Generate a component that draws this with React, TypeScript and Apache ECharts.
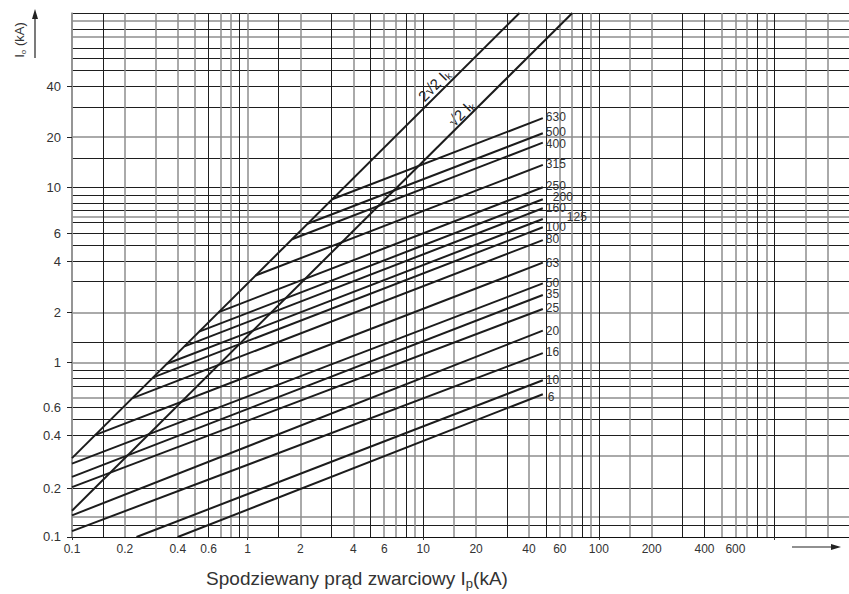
import React, { useEffect, useRef } from "react";
import * as echarts from "echarts";

const FONT = "'Liberation Sans', Arial, Helvetica, sans-serif";

// Fuse ratings (A) – cut-off lines: prospective current Ik (kA) -> let-through I0 (kA)
const fuseNames = ["630", "500", "400", "315", "250", "200", "160", "125", "100", "80", "63", "50", "35", "25", "20", "16", "10", "6"];
const startIk = [3.03, 2.19, 1.79, 1.11, 0.686, 0.53, 0.437, 0.347, 0.29, 0.221, 0.135, 0.1, 0.1, 0.1, 0.1, 0.1, 0.233, 0.4];
const startI0 = [8.58, 6.21, 5.07, 3.14, 1.94, 1.5, 1.235, 0.981, 0.82, 0.624, 0.383, 0.263, 0.221, 0.193, 0.133, 0.108, 0.1, 0.1];
const endIk = [48, 48, 48, 48, 48, 48, 48, 48, 48, 48, 48, 48, 48, 48, 48, 48, 48, 48];
const endI0 = [25.0, 20.5, 18.1, 13.5, 10.05, 8.58, 7.62, 6.62, 5.93, 5.01, 3.72, 2.83, 2.43, 2.02, 1.52, 1.13, 0.79, 0.657];

// Peak envelopes 2√2·Ik and √2·Ik
const peak2Ik = [0.1, 35.36];
const peak2I0 = [0.2828, 100];
const peak1Ik = [0.1, 70.71];
const peak1I0 = [0.1414, 100];

// Axes
const xLabelValues = [0.10001, 0.2, 0.4, 0.6, 1, 2, 4, 6, 10, 20, 40, 60, 100, 200, 400, 600];
const xTickValues = [0.10001, 1, 10, 100, 1000];
const xGridGray = [0.10001, 0.2, 0.3, 0.4, 0.5, 0.7, 0.8, 1, 2, 4, 6, 7, 9, 15, 20, 40, 60, 70, 90, 150, 200, 500, 600, 700, 900, 1500, 2000];
const xGridBlack = [0.15, 0.6, 0.9, 1.5, 3, 5, 8, 10, 30, 50, 80, 100, 300, 400, 800, 1000];

const yLabelValues = [0.10001, 0.19, 0.38, 0.55, 1.0, 1.93, 3.8, 5.5, 10, 19.5, 38];
const yLabelTexts = ["0.1", "0.2", "0.4", "0.6", "1", "2", "4", "6", "10", "20", "40"];
const yGridGray = [90, 73, 19.5, 6.8, 1.93, 1.0, 0.63, 0.29, 0.13];
const yGridBlack = [99.99, 81, 63, 55, 47, 38, 29, 14.7, 10, 9, 8.1, 7.4, 6.3, 5.5, 4.7, 3.8, 2.9, 1.31, 0.9, 0.81, 0.73, 0.55, 0.47, 0.38, 0.19, 0.117, 0.10001];

// label nudges (pixels) for the rating labels at the line ends
const labelDx = [0, 0, 0, 0, 0, 7, 0, 21, 0, 0, 0, 0, 0, 0, 0, 0, 0, 2];
const labelDy = [-1, -1.5, 1.5, -0.7, -1.3, -2, 0, -1.7, 0, -1, 0.6, 0, -0.7, -0.7, 0, -1, -0.7, 3.3];

const X_MIN = 0.1;
const X_MAX = 2660;
const Y_MIN = 0.1;
const Y_MAX = 100;

function nice(v: number) {
  return String(parseFloat(Number(v).toPrecision(3)));
}

export default function App() {
  const ref = useRef<HTMLDivElement>(null);

  useEffect(() => {
    if (!ref.current) return;
    const chart = echarts.init(ref.current, null, { renderer: "svg" });

    const xBase = { type: "log", logBase: 10, min: X_MIN, max: X_MAX, gridIndex: 0 };
    const yBase = { type: "log", logBase: 10, min: Y_MIN, max: Y_MAX, gridIndex: 0 };

    const gridAxis = (base: any, values: number[], color: string, width: number) => ({
      ...base,
      axisLine: { show: false },
      axisTick: { show: false, customValues: values },
      axisLabel: { show: false },
      splitLine: { show: true, lineStyle: { color, width } },
    });

    const lineStyle = { color: "#1c1c1c", width: 2 };

    const fuseSeries = fuseNames.map((name, i) => ({
      type: "line",
      name,
      xAxisIndex: 0,
      yAxisIndex: 0,
      data: [
        [startIk[i], startI0[i]],
        [endIk[i], endI0[i]],
      ],
      symbol: "none",
      silent: true,
      lineStyle,
      endLabel: {
        show: true,
        formatter: name,
        color: "#333",
        fontSize: 12,
        lineHeight: 10,
        fontFamily: FONT,
        distance: 3,
        offset: [labelDx[i], labelDy[i]],
      },
    }));

    const envSeries = [
      { name: "2√2 Ik", xs: peak2Ik, ys: peak2I0 },
      { name: "√2 Ik", xs: peak1Ik, ys: peak1I0 },
    ].map((e) => ({
      type: "line",
      name: e.name,
      xAxisIndex: 0,
      yAxisIndex: 0,
      data: e.xs.map((x, k) => [x, e.ys[k]]),
      symbol: "none",
      silent: true,
      lineStyle,
    }));

    const option: any = {
      animation: false,
      backgroundColor: "#fff",
      grid: { left: 72, top: 13, right: 0, bottom: 57, containLabel: false },
      xAxis: [
        {
          ...xBase,
          axisLine: { show: true, onZero: false, lineStyle: { color: "#111", width: 1 } },
          axisTick: { show: true, customValues: xTickValues, length: 3, lineStyle: { color: "#333" } },
          axisLabel: {
            customValues: xLabelValues,
            formatter: (v: number) => nice(v),
            color: "#333",
            fontSize: 12,
            fontFamily: FONT,
            margin: 6,
          },
          splitLine: { show: false },
        },
        gridAxis(xBase, xGridGray, "#8e8e8e", 1.5),
        gridAxis(xBase, xGridBlack, "#1e1e1e", 1),
      ],
      yAxis: [
        {
          ...yBase,
          axisLine: { show: true, onZero: false, lineStyle: { color: "#8e8e8e", width: 1.5 } },
          axisTick: { show: true, customValues: yLabelValues, length: 5, lineStyle: { color: "#222" } },
          axisLabel: {
            customValues: yLabelValues,
            formatter: (v: number) => {
              let best = 0;
              for (let k = 1; k < yLabelValues.length; k++) {
                if (Math.abs(Math.log(yLabelValues[k] / v)) < Math.abs(Math.log(yLabelValues[best] / v))) best = k;
              }
              return yLabelTexts[best];
            },
            color: "#333",
            fontSize: 13,
            fontFamily: FONT,
            margin: 11,
          },
          splitLine: { show: false },
        },
        gridAxis(yBase, yGridGray, "#8e8e8e", 1.5),
        gridAxis(yBase, yGridBlack, "#1e1e1e", 1),
      ],
      series: [...envSeries, ...fuseSeries],
      graphic: [
        // y-axis title and arrow
        {
          type: "text",
          x: 19,
          y: 40,
          rotation: Math.PI / 2,
          style: {
            text: "{a|I}{s|o}{a| (kA)}",
            align: "center",
            verticalAlign: "middle",
            rich: {
              a: { fontSize: 13, fontFamily: FONT, fill: "#333", lineHeight: 16 },
              s: { fontSize: 8, fontFamily: FONT, fill: "#333", verticalAlign: "bottom", lineHeight: 10 },
            },
          },
        },
        { type: "line", shape: { x1: 35, y1: 58, x2: 35, y2: 16 }, style: { stroke: "#222", lineWidth: 1.2 } },
        { type: "polygon", shape: { points: [[35, 9], [32, 19], [38, 19]] }, style: { fill: "#222" } },
        // x-axis title and arrow
        {
          type: "text",
          x: 357,
          y: 578,
          style: {
            text: "{a|Spodziewany prąd zwarciowy I}{s|p}{a|(kA)}",
            align: "center",
            verticalAlign: "middle",
            rich: {
              a: { fontSize: 19, fontFamily: FONT, fill: "#333", lineHeight: 24 },
              s: { fontSize: 13, fontFamily: FONT, fill: "#333", verticalAlign: "bottom", lineHeight: 14 },
            },
          },
        },
        { type: "line", shape: { x1: 792, y1: 547, x2: 833, y2: 547 }, style: { stroke: "#222", lineWidth: 1.2 } },
        { type: "polygon", shape: { points: [[841, 547], [831, 544], [831, 550]] }, style: { fill: "#222" } },
        // envelope annotations
        {
          type: "text",
          x: 434,
          y: 85,
          rotation: Math.PI / 4,
          style: {
            text: "{a|2√2 I}{s|k}",
            align: "center",
            verticalAlign: "middle",
            rich: {
              a: { fontSize: 15, fontFamily: FONT, fill: "#222", lineHeight: 18 },
              s: { fontSize: 10, fontFamily: FONT, fill: "#222", verticalAlign: "bottom", lineHeight: 11 },
            },
          },
        },
        {
          type: "text",
          x: 461,
          y: 113,
          rotation: Math.PI / 4,
          style: {
            text: "{a|√2 I}{s|k}",
            align: "center",
            verticalAlign: "middle",
            rich: {
              a: { fontSize: 15, fontFamily: FONT, fill: "#222", lineHeight: 18 },
              s: { fontSize: 10, fontFamily: FONT, fill: "#222", verticalAlign: "bottom", lineHeight: 11 },
            },
          },
        },
      ],
    };

    chart.setOption(option);
    return () => chart.dispose();
  }, []);

  return (
    <div
      ref={ref}
      style={{ position: "fixed", left: 0, top: 0, width: 849, height: 594, background: "#fff" }}
    />
  );
}
